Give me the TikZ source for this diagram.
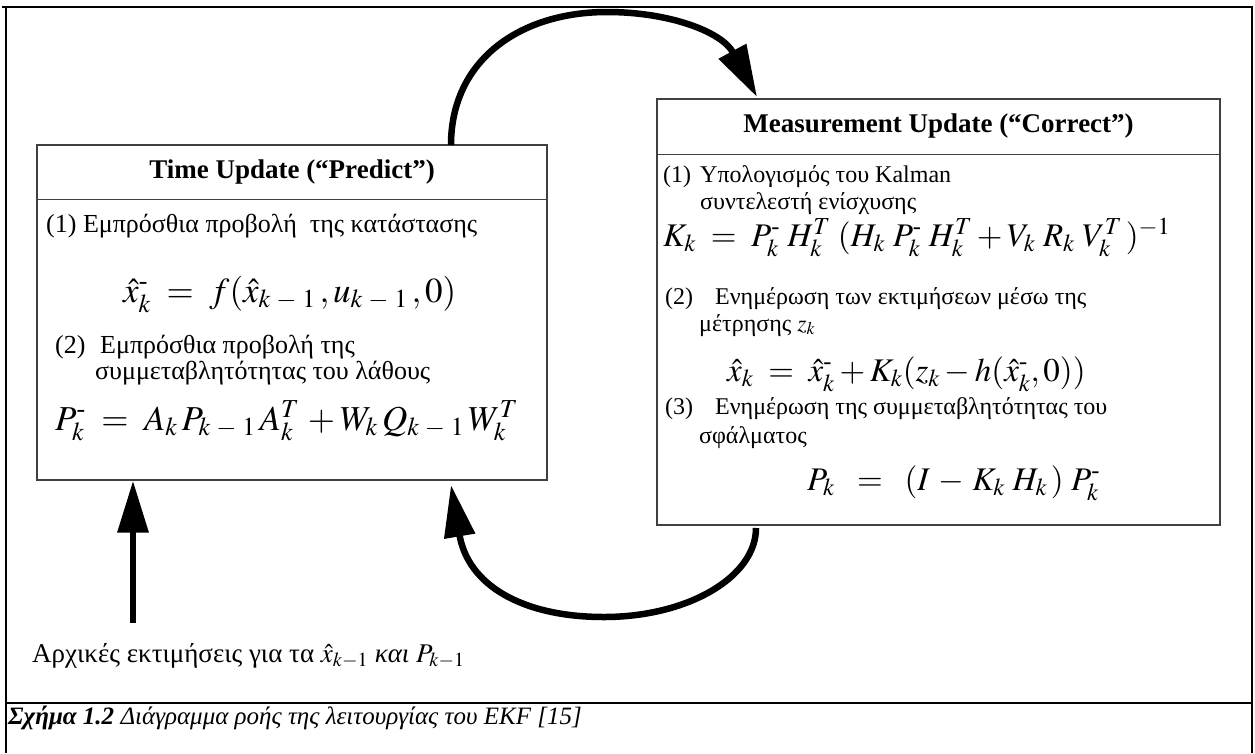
\documentclass[tikz,border=0pt]{standalone}
\usepackage{amsmath}
\usepackage{mathptmx}
\usepackage{fontspec}
\setmainfont{Liberation Serif}
\usetikzlibrary{arrows.meta,calc}
\newcommand{\mm}{\text{-}}
\newcommand{\kmo}{k\mskip4mu{-}\mskip4mu 1}
\tikzset{
  box/.style={draw=black!75, line width=1.3pt, rectangle, inner sep=0pt},
  divider/.style={draw=black!75, line width=1.3pt},
  bigarrow/.style={line width=6.5pt, -{Triangle[length=52pt,width=30pt]}},
  txtL/.style={anchor=base west, inner sep=0pt, font=\fontsize{26}{30}\selectfont},
  txtR/.style={anchor=base west, inner sep=0pt, font=\fontsize{24}{28}\selectfont},
  txtB/.style={anchor=base west, inner sep=0pt, font=\fontsize{27}{31}\selectfont},
  captxt/.style={anchor=base west, inner sep=0pt, font=\fontsize{25}{29}\selectfont},
  ttl/.style={inner sep=0pt, font=\fontsize{27}{31}\selectfont\bfseries},
  eqL/.style={anchor=base west, inner sep=0pt, font=\fontsize{35}{39}\selectfont},
  eqR/.style={anchor=base west, inner sep=0pt, font=\fontsize{33}{37}\selectfont},
  frameline/.style={line width=2pt}
}
\begin{document}
\begin{tikzpicture}[x=1pt,y=-1pt]
\useasboundingbox (0,0) rectangle (1255,753);
% frame
\draw[frameline] (2,7) -- (1253,7);
\draw[frameline] (6,7) -- (6,753);
\draw[frameline] (1252,7) -- (1252,753);
\draw[frameline] (6,703) -- (1252,703);

% left box
\node[box, minimum width=510pt, minimum height=335pt] (lbox) at (292,312.5) {};
\draw[divider] ([yshift=-55pt]lbox.north west) coordinate (lhw) -- ([yshift=-55pt]lbox.north east) coordinate (lhe);
\node[ttl] (ltitle) at ($(lbox.north)!0.5!($(lhw)!0.5!(lhe)$)$) {Time Update (“Predict”)};
\node[txtL] (l1) at (46,232) {(1) Εμπρόσθια προβολή\ \ της κατάστασης};
\node[eqL] (le1) at (123,302) {$\hat{x}^{\mm}_k \;=\; f(\hat{x}_{\kmo}\,, u_{\kmo}\,, 0)$};
\node[txtL] (l2) at (55,353) {\makebox[45pt][l]{(2)}Εμπρόσθια προβολή της};
\node[txtL] (l3) at (95,379) {συμμεταβλητότητας του λάθους};
\node[eqL] (le2) at (55,430) {$P^{\mm}_k \;=\; A_k\,P_{\kmo}\,A^T_k\, + W_k\,Q_{\kmo}\,W^T_k$};

% right box
\node[box, minimum width=563pt, minimum height=426pt] (rbox) at (938.5,312) {};
\draw[divider] ([yshift=-56pt]rbox.north west) coordinate (rhw) -- ([yshift=-56pt]rbox.north east) coordinate (rhe);
\node[ttl] (rtitle) at ($(rbox.north)!0.5!($(rhw)!0.5!(rhe)$)$) {Measurement Update (“Correct”)};
\node[txtR] (r1) at (663,182) {\makebox[37pt][l]{(1)}Υπολογισμός του Kalman};
\node[txtR] (r2) at (700,209) {συντελεστή ενίσχυσης};
\node[eqR] (re1) at (663,246) {$K_k \;=\; P^{\mm}_k\;H^T_k\;(H_k\;P^{\mm}_k\;H^T_k + V_k\;R_k\;V^T_k\,)^{-1}$};
\node[txtR] (r3) at (665,304) {\makebox[50pt][l]{(2)}Ενημέρωση των εκτιμήσεων μέσω της};
\node[txtR] (r4) at (699,331) {μέτρησης $z_k$};
\node[eqR] (re2) at (727,381) {$\hat{x}_k \;=\; \hat{x}^{\mm}_k + K_k(z_k - h(\hat{x}^{\mm}_k, 0))$};
\node[txtR] (r5) at (665,414) {\makebox[50pt][l]{(3)}Ενημέρωση της συμμεταβλητότητας του};
\node[txtR] (r6) at (699,443) {σφάλματος};
\node[eqR] (re3) at (807,490) {$P_k \;\;=\;\; (I \,-\, K_k\;H_k\,)\;P^{\mm}_k$};

% initial estimates
\node[txtB] (init) at (32,662) {Αρχικές εκτιμήσεις για τα $\hat{x}_{k-1}$ {\itshape και} $P_{k-1}$};
\coordinate (initTop) at (133,623);
\draw[bigarrow] (initTop) -- (lbox.south -| initTop);

% caption
\node[captxt] (cap) at (8,724) {{\bfseries\itshape Σχήμα 1.2} {\itshape Διάγραμμα ροής της λειτουργίας του EKF [15]}};

% top arrow (predict -> correct)
\coordinate (ts) at (451,145);
\coordinate (te) at (757,97);
\draw[bigarrow] (ts) .. controls (451,60) and (520,12) .. (607,12)
                     .. controls (670,12) and (722,32) .. (te);
% bottom arrow (correct -> predict)
\coordinate (bs) at (756,528);
\coordinate (be) at (451,485);
\draw[bigarrow] (bs) .. controls (756,577) and (688,617) .. (604,617)
                     .. controls (522,617) and (468,585) .. (be);
\end{tikzpicture}
\end{document}
